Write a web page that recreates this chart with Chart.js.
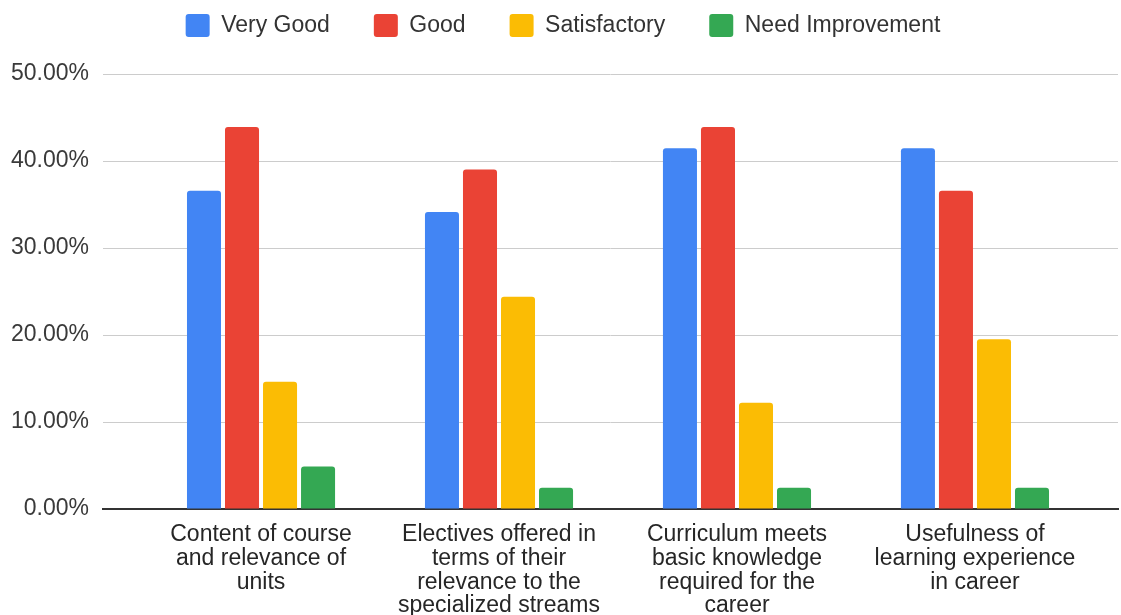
<!DOCTYPE html>
<html>
<head>
<meta charset="utf-8">
<script src="https://cdn.jsdelivr.net/npm/chart.js@4"></script>
<style>
  html, body { margin: 0; padding: 0; background: #ffffff; }
  #wrap { width: 1121px; height: 615px; position: relative; }
</style>
</head>
<body>
<div id="wrap"><canvas id="c"></canvas></div>
<script>
const categories = [
  ["Content of course", "and relevance of", "units"],
  ["Electives offered in", "terms of their", "relevance to the", "specialized streams"],
  ["Curriculum meets", "basic knowledge", "required for the", "career"],
  ["Usefulness of", "learning experience", "in career"]
];
const seriesNames = ["Very Good", "Good", "Satisfactory", "Need Improvement"];
const veryGood = [36.59, 34.15, 41.46, 41.46];
const good = [43.90, 39.02, 43.90, 36.59];
const satisfactory = [14.63, 24.39, 12.20, 19.51];
const needImprovement = [4.88, 2.44, 2.44, 2.44];
const yTicks = [0, 10, 20, 30, 40, 50];
const colors = ["#4285F4", "#EA4335", "#FBBC04", "#34A853"];

const FONT = "'Liberation Sans', Arial, Helvetica, sans-serif";

const seriesData = [veryGood, good, satisfactory, needImprovement];

new Chart(document.getElementById('c'), {
  type: 'bar',
  data: {
    labels: categories,
    datasets: seriesNames.map((name, i) => ({
      label: name,
      data: seriesData[i],
      backgroundColor: colors[i],
      borderWidth: 0,
      borderRadius: 3,
      borderSkipped: 'start',
      categoryPercentage: 0.639,
      barPercentage: 0.895
    }))
  },
  options: {
    responsive: true,
    maintainAspectRatio: false,
    animation: false,
    layout: { padding: { top: -30, left: 8, right: 3, bottom: 0 } },
    plugins: {
      legend: {
        position: 'top',
        align: 'center',
        labels: {
          boxWidth: 24,
          boxHeight: 23,
          padding: 44,
          useBorderRadius: true,
          borderRadius: 3,
          color: '#333333',
          font: { family: FONT, size: 23 }
        }
      },
      subtitle: {
        display: true,
        text: '',
        weight: 500,
        font: { size: 1, lineHeight: 1 },
        padding: { top: 0, bottom: 26 }
      },
      tooltip: { enabled: false }
    },
    scales: {
      x: {
        grid: { display: false },
        border: { display: true, color: '#333333', width: 2 },
        ticks: {
          color: '#262626',
          font: { family: FONT, size: 23, lineHeight: 1.03 },
          padding: 6,
          maxRotation: 0,
          autoSkip: false
        },
        afterFit: (scale) => { scale.height = 106; },
        afterBuildTicks: (scale) => {
          scale._startValue = -0.664;
          scale._valueRange = 4.265;
        }
      },
      y: {
        min: yTicks[0],
        max: yTicks[yTicks.length - 1],
        afterBuildTicks: (scale) => { scale.ticks = yTicks.map(v => ({ value: v })); },
        grid: {
          color: (ctx) => (ctx.tick && ctx.tick.value === 0) ? '#333333' : '#cccccc',
          lineWidth: 1,
          drawTicks: false
        },
        border: { display: false },
        ticks: {
          color: '#3a3a3a',
          font: { family: FONT, size: 23 },
          padding: 14,
          callback: (v) => Number(v).toFixed(2) + '%'
        },
        afterFit: (scale) => { scale.width = 95; }
      }
    }
  }
});
</script>
</body>
</html>
